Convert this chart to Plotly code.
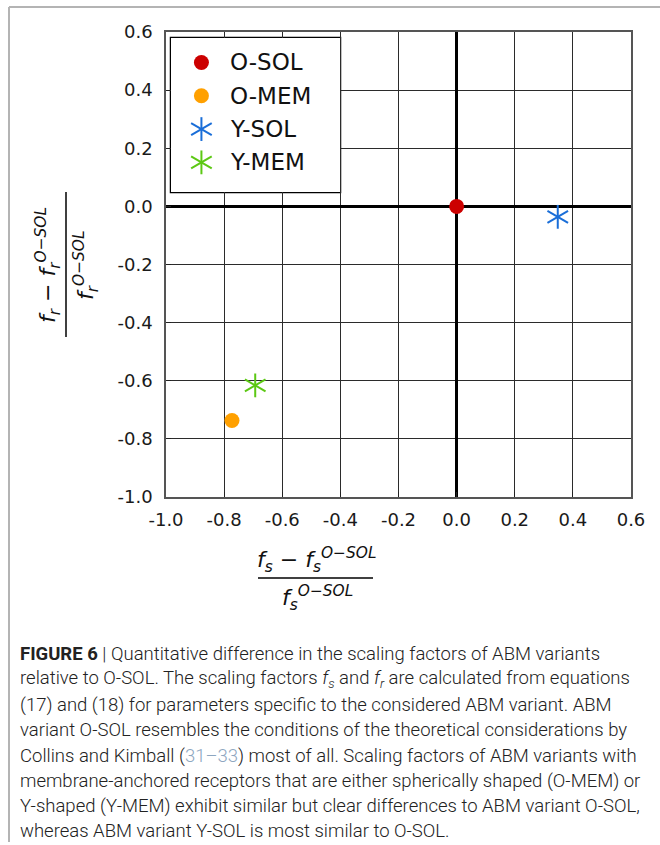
import plotly.graph_objects as go

# ---- data -------------------------------------------------------------
variants = ["O-SOL", "O-MEM", "Y-SOL", "Y-MEM"]
rel_fs = [0.0, -0.773, 0.348, -0.693]     # (f_s - f_s^O-SOL) / f_s^O-SOL
rel_fr = [0.0, -0.737, -0.036, -0.616]    # (f_r - f_r^O-SOL) / f_r^O-SOL
colors = ["#cc0000", "#ffa000", "#1a6ed8", "#5cc814"]
marker_kind = ["dot", "dot", "star", "star"]

tick_vals = [-1.0, -0.8, -0.6, -0.4, -0.2, 0.0, 0.2, 0.4, 0.6]
tick_text = ["-1.0", "-0.8", "-0.6", "-0.4", "-0.2", "0.0", "0.2", "0.4", "0.6"]

caption_lines = [
    "<span style='font-weight:700'>FIGURE 6</span> | Quantitative difference in the scaling factors of ABM variants",
    "relative to O-SOL. The scaling factors <i>f<sub>s</sub></i> and <i>f<sub>r</sub></i> are calculated from equations",
    "(17) and (18) for parameters specific to the considered ABM variant. ABM",
    "variant O-SOL resembles the conditions of the theoretical considerations by",
    "Collins and Kimball (<span style='color:#8da6c0'>31–33</span>) most of all. Scaling factors of ABM variants with",
    "membrane-anchored receptors that are either spherically shaped (O-MEM) or",
    "Y-shaped (Y-MEM) exhibit similar but clear differences to ABM variant O-SOL,",
    "whereas ABM variant Y-SOL is most similar to O-SOL.",
]

# ---- page geometry ----------------------------------------------------
FIG_W, FIG_H = 660, 845
M_L, M_R, M_T, M_B = 166, 29, 32, 348
PW = FIG_W - M_L - M_R
PH = FIG_H - M_T - M_B


def pxx(px):
    return (px - M_L) / PW


def pxy(py):
    return (FIG_H - M_B - py) / PH


STAR_ANGLES = [0, 60, -60]
STAR_SIZE = 17
DOT_SIZE = 15

fig = go.Figure()


def add_marker(x, y, kind, color, xaxis="x", yaxis="y"):
    if kind == "dot":
        fig.add_trace(go.Scatter(
            x=x, y=y, mode="markers", xaxis=xaxis, yaxis=yaxis,
            marker=dict(symbol="circle", size=DOT_SIZE, color=color, line=dict(width=0)),
            showlegend=False, hoverinfo="skip"))
    else:
        for ang in STAR_ANGLES:
            fig.add_trace(go.Scatter(
                x=x, y=y, mode="markers", xaxis=xaxis, yaxis=yaxis,
                marker=dict(symbol="line-ns-open", size=STAR_SIZE, angle=ang,
                            color=color, line=dict(width=2, color=color)),
                showlegend=False, hoverinfo="skip"))


# data points
for name, xv, yv, kind, col in zip(variants, rel_fs, rel_fr, marker_kind, colors):
    add_marker([xv], [yv], kind, col)

# legend (drawn on its own small axes inside the plot)
for i, (name, kind, col) in enumerate(zip(variants, marker_kind, colors)):
    add_marker([0.18], [i], kind, col, "x2", "y2")
    fig.add_annotation(x=0.34, y=i, xref="x2", yref="y2", text=name,
                       showarrow=False, xanchor="left", yanchor="middle",
                       font=dict(family="DejaVu Sans", size=23, color="#111111"))

fig.add_shape(type="rect", xref="x2 domain", yref="y2 domain", x0=0, x1=1, y0=0, y1=1,
              line=dict(color="black", width=2.5), fillcolor="white", layer="below")

axis_common = dict(
    range=[-1.0, 0.6], tickvals=tick_vals, ticktext=tick_text,
    showgrid=True, gridcolor="#2b2b2b", gridwidth=1,
    zeroline=True, zerolinecolor="black", zerolinewidth=3,
    showline=True, mirror=True, linecolor="#555555", linewidth=1.5,
    ticks="inside", ticklen=5, tickcolor="#222222",
    tickfont=dict(family="DejaVu Sans", size=18, color="#1a1a1a"),
    automargin=False, fixedrange=True,
)

lx0, lx1, ly0, ly1 = 171, 340, 38, 192
fig.update_layout(
    width=FIG_W, height=FIG_H,
    margin=dict(l=M_L, r=M_R, t=M_T, b=M_B, pad=0),
    paper_bgcolor="white", plot_bgcolor="white",
    showlegend=False,
    xaxis=dict(**axis_common, ticklabelstandoff=6),
    yaxis=dict(**axis_common, ticklabelstandoff=8),
    xaxis2=dict(domain=[pxx(lx0), pxx(lx1)], range=[0, 1], anchor="y2",
                visible=False, fixedrange=True),
    yaxis2=dict(domain=[pxy(ly1), pxy(ly0)], range=[3.89, -0.735], anchor="x2",
                visible=False, fixedrange=True),
)

# ---- axis labels as stacked fractions ----------------------------------
lab_font = dict(family="DejaVu Sans", size=22, color="#111111")
num_x = "<i>f<sub>s</sub></i> − <i>f<sub>s</sub><sup>O−SOL</sup></i>"
den_x = "<i>f<sub>s</sub><sup>O−SOL</sup></i>"
num_y = "<i>f<sub>r</sub></i> − <i>f<sub>r</sub><sup>O−SOL</sup></i>"
den_y = "<i>f<sub>r</sub><sup>O−SOL</sup></i>"

fig.add_annotation(xref="paper", yref="paper", x=pxx(316), y=pxy(560), text=num_x,
                   showarrow=False, xanchor="center", yanchor="middle", font=lab_font)
fig.add_annotation(xref="paper", yref="paper", x=pxx(317), y=pxy(598), text=den_x,
                   showarrow=False, xanchor="center", yanchor="middle", font=lab_font)
fig.add_shape(type="line", xref="paper", yref="paper", x0=pxx(258), x1=pxx(373),
              y0=pxy(578), y1=pxy(578), line=dict(color="black", width=1.5))

fig.add_annotation(xref="paper", yref="paper", x=pxx(48), y=pxy(265), text=num_y,
                   textangle=-90, showarrow=False, xanchor="center", yanchor="middle",
                   font=lab_font)
fig.add_annotation(xref="paper", yref="paper", x=pxx(86), y=pxy(265), text=den_y,
                   textangle=-90, showarrow=False, xanchor="center", yanchor="middle",
                   font=lab_font)
fig.add_shape(type="line", xref="paper", yref="paper", x0=pxx(66), x1=pxx(66),
              y0=pxy(192), y1=pxy(337), line=dict(color="black", width=1.5))

# ---- page frame ------------------------------------------------------
frame = dict(color="#b4b4b4", width=2)
fig.add_shape(type="line", xref="paper", yref="paper", x0=pxx(9), x1=pxx(660),
              y0=pxy(7), y1=pxy(7), line=frame)
fig.add_shape(type="line", xref="paper", yref="paper", x0=pxx(9), x1=pxx(9),
              y0=pxy(7), y1=pxy(842), line=frame)

# ---- caption ---------------------------------------------------------
cap_y = [654, 679, 705, 730, 756, 781, 806, 831]
for line, yy in zip(caption_lines, cap_y):
    fig.add_annotation(xref="paper", yref="paper", x=pxx(18), y=pxy(yy), text=line,
                       showarrow=False, xanchor="left", yanchor="middle",
                       font=dict(family="Roboto", size=18.5, weight=300, color="#222222"))

fig.write_html("out.html")
